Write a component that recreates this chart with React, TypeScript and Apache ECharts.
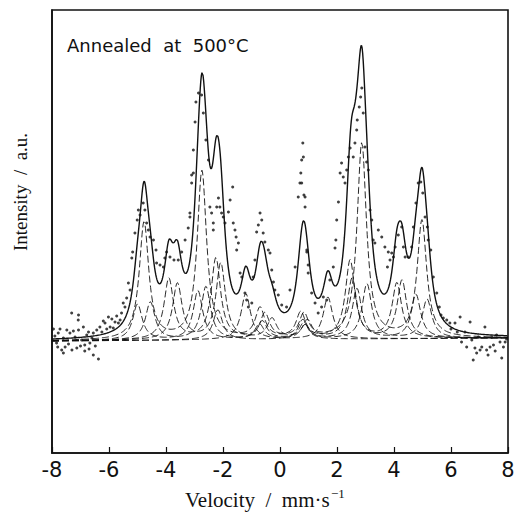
import React, { useEffect, useRef } from 'react';
import * as echarts from 'echarts';

// x axis ticks (velocity, mm/s)
const velocityTicks = [-8, -6, -4, -2, 0, 2, 4, 6, 8];

// Fitted sub-spectra: line positions (mm/s) and heights (a.u.)
const compCenters = [
  [-4.77, -2.74, -0.70, 0.84, 2.87, 4.98],
  [-5.0, -2.88, -0.72, 0.88, 3.05, 5.16],
  [-4.55, -2.6, -0.62, 0.84, 2.7, 4.77],
  [-3.9, -2.25, -0.53, 0.73, 2.46, 4.1],
  [-3.6, -2.08, -0.28, 0.96, 2.53, 4.28],
  [-1.2, 1.68],
  [-2.18, 0.8],
];
const compHeights = [
  [117, 168, 30, 24, 195, 117],
  [36, 49, 15, 14, 55, 39],
  [38, 53, 18, 16, 50, 44],
  [61, 81, 25, 26, 78, 55],
  [56, 76, 20, 18, 60, 58],
  [46, 42],
  [30, 20],
];
const compHwhm = [0.2, 0.2, 0.2, 0.2, 0.2, 0.2, 0.2];
const baseLeft = 0;
const baseRight = 3;

const dataV = [
  -7.95, -7.9, -7.84, -7.8, -7.78, -7.72, -7.66, -7.6, -7.6, -7.54, -7.48, -7.42, -7.37, -7.31, -7.3, -7.25, -7.19, -7.13, -7.08, -7.07, -7.07, -7.0, -6.96, -6.9, -6.85, -6.85, -6.78, -6.72, -6.7, -6.67, -6.6, -6.55, -6.55, -6.48, -6.43, -6.37, -6.32, -6.25, -6.2, -6.14, -6.08, -6.02, -5.96, -5.9, -5.85, -5.79, -5.73, -5.67, -5.61, -5.56, -5.5, -5.44, -5.38, -5.32, -5.26, -5.2, -5.17, -5.09, -5.01, -4.97, -4.91, -4.8, -4.74, -4.68, -4.62, -4.56, -4.44, -4.35, -4.33, -4.21, -4.09, -4.04, -3.98, -3.86, -3.72, -3.57, -3.45, -3.33, -3.22, -3.16, -3.1, -3.04,
  -2.98, -3.04, -3.1, -3.16, -2.95, -2.86, -2.75, -2.69, -2.6, -2.51, -2.46, -2.4, -2.34, -2.34, -2.22, -2.16, -2.11, -2.05, -1.99, -1.93, -1.81, -1.75, -1.66, -1.64, -1.58, -1.54, -1.52, -1.46, -1.4, -1.34, -1.23, -1.17, -1.11, -0.99, -0.94, -0.88, -0.82, -0.76, -0.7, -0.64, -0.59, -0.53, -0.41, -0.35, -0.29, -0.23, -0.18, -0.06, 0.06, 0.23, 0.35, 0.53, 0.64, 0.7, 0.73, 0.76, 0.8, 0.84, 0.88, 0.94, 0.99,
  0.82, 0.76, 0.88, 0.94, 0.99, 1.11, 1.23, 1.34, 1.46, 1.52, 1.64, 1.75, 1.87, 1.93, 1.96, 1.99, 2.05, 2.11, 2.16, 2.22, 2.28, 2.34, 2.4, 2.46, 2.57, 2.63, 2.69, 2.71, 2.78, 2.83, 2.87, 2.92, 2.98, 3.04, 3.1, 3.16, 3.22, 3.27, 3.33, 3.45, 3.57, 3.68, 3.8, 3.86, 3.77, 3.98,
  3.92, 4.04, 4.15, 4.27, 4.33, 4.39, 4.5, 4.62, 4.68, 4.77, 4.85, 4.94, 5.01, 5.09, 5.17, 5.2, 5.29, 5.38, 5.5, 5.59, 5.65, 5.73, 5.85, 5.96, 6.0, 6.14, 6.22, 6.32, 6.37, 6.49, 6.55, 6.67, 6.73, 6.78, 6.84, 6.9, 6.96, 7.02, 7.08, 7.19, 7.25, 7.3, 7.37, 7.43, 7.49, 7.55, 7.6, 7.72, 7.78, 7.84, 7.9, 7.95,
];
const dataI = [
  12, 5, -2, -6, 8, 12, -9, 3, -12, -6, 11, -3, 8, 28, -9, 10, 4, -7, 21, 26, 11, -5, 1, 14, -4, -10, 6, 9, -8, -2, 3, -14, 8, -5, 11, -18, 14, 9, 20, 18, 12, 24, 14, 22, 13, 19, 25, 18, 21, 28, 38, 34, 43, 58, 51, 83, 89, 108, 121, 131, 126, 138, 131, 118, 111, 104, 101, 91, 78, 76, 74, 83, 89, 84, 81, 81, 89, 101, 113, 128, 158, 168,
  219, 191, 166, 124, 239, 248, 246, 228, 201, 181, 134, 128, 118, 111, 134, 143, 134, 128, 124, 118, 129, 141, 154, 118, 111, 104, 91, 98, 68, 64, 48, 41, 34, 38, 64, 81, 109, 116, 128, 121, 108, 99, 91, 88, 71, 59, 51, 46, 36, 34, 51, 74, 144, 158, 168, 181, 198, 146, 134, 89, 68,
  184, 158, 144, 91, 76, 48, 38, 28, 34, 44, 41, 61, 74, 93, 101, 121, 139, 168, 178, 164, 158, 171, 184, 193, 184, 198, 211, 221, 234, 244, 253, 228, 194, 179, 171, 131, 121, 101, 98, 111, 104, 94, 89, 81, 74, 84,
  88, 94, 106, 114, 94, 84, 84, 94, 114, 138, 158, 159, 148, 124, 114, 101, 91, 64, 48, 34, 26, 23, 21, 18, 12, 18, 9, 24, -1, 9, -6, 19, 1, -19, -7, -12, 4, -9, -6, 14, -9, -14, -6, 4, -4, -10, 6, -1, -17, -6, -1, 2,
];

const Y_MIN = -112;
const Y_MAX = 331;

function baseAt(v: number) {
  return baseLeft + ((baseRight - baseLeft) * (v + 8)) / 16;
}

function compAt(k: number, v: number) {
  let s = 0;
  const g = compHwhm[k];
  compCenters[k].forEach((c, j) => {
    const d = (v - c) / g;
    s += compHeights[k][j] / (1 + d * d);
  });
  return s;
}

export default function App() {
  const ref = useRef<HTMLDivElement>(null);
  useEffect(() => {
    if (!ref.current) return;
    const chart = echarts.init(ref.current, undefined, { renderer: 'svg' });
    const grid: number[] = [];
    for (let i = 0; i <= 800; i++) grid.push(-8 + i * 0.02);

    const compSeries = compCenters.map((_, k) => ({
      type: 'line',
      data: grid.map((v) => [v, baseAt(v) + compAt(k, v)]),
      showSymbol: false,
      lineStyle: { color: '#111', width: 0.9, type: [7, 3] },
      z: 2,
      silent: true,
    }));
    const total = grid.map((v) => {
      let s = baseAt(v);
      for (let k = 0; k < compCenters.length; k++) s += compAt(k, v);
      return [v, s];
    });
    const points = dataV.map((v, i) => [v, dataI[i]]);

    chart.setOption({
      animation: false,
      backgroundColor: '#fff',
      grid: {
        left: 52,
        right: 14,
        top: 10,
        bottom: 62,
        show: true,
        borderColor: '#111',
        borderWidth: 1.6,
      },
      xAxis: {
        type: 'value',
        min: velocityTicks[0],
        max: velocityTicks[velocityTicks.length - 1],
        interval: 2,
        axisLine: { show: true, onZero: false, lineStyle: { color: '#111', width: 1.6 } },
        axisTick: { show: true, inside: true, length: 6, lineStyle: { color: '#111', width: 1.2 } },
        axisLabel: {
          fontSize: 21,
          fontFamily: 'DejaVu Sans',
          color: '#111',
          margin: 6,
        },
        splitLine: { show: false },
      },
      yAxis: {
        type: 'value',
        min: Y_MIN,
        max: Y_MAX,
        axisLine: { show: true, onZero: false, lineStyle: { color: '#111', width: 1.6 } },
        axisTick: { show: false },
        axisLabel: { show: false },
        splitLine: { show: false },
      },
      series: [
        ...compSeries,
        {
          type: 'line',
          data: total,
          showSymbol: false,
          lineStyle: { color: '#111', width: 1.4 },
          z: 3,
          silent: true,
        },
        {
          type: 'scatter',
          data: points,
          symbol: 'circle',
          symbolSize: 3,
          itemStyle: { color: '#111' },
          z: 4,
          silent: true,
        },
      ],
      graphic: [
        {
          type: 'text',
          left: 67,
          top: 36,
          style: {
            text: 'Annealed  at  500°C',
            fontSize: 18,
            fontFamily: 'DejaVu Sans',
            fill: '#111',
          },
        },
        {
          type: 'text',
          x: 20,
          y: 192,
          rotation: Math.PI / 2,
          style: {
            text: 'Intensity  /  a.u.',
            fontSize: 19,
            fontFamily: 'Liberation Serif',
            fill: '#111',
            align: 'center',
            verticalAlign: 'middle',
          },
        },
        {
          type: 'text',
          x: 185,
          y: 510,
          style: {
            text: 'Velocity  /  mm·s',
            fontSize: 21,
            fontFamily: 'Liberation Serif',
            fill: '#111',
            align: 'left',
            verticalAlign: 'bottom',
          },
        },
        {
          type: 'text',
          x: 331,
          y: 500,
          style: {
            text: '−1',
            fontSize: 13,
            fontFamily: 'Liberation Serif',
            fill: '#111',
            align: 'left',
            verticalAlign: 'bottom',
          },
        },
      ],
    });
    return () => chart.dispose();
  }, []);
  return (
    <div
      ref={ref}
      style={{ position: 'absolute', left: 0, top: 0, width: 522, height: 515, background: '#fff' }}
    />
  );
}
